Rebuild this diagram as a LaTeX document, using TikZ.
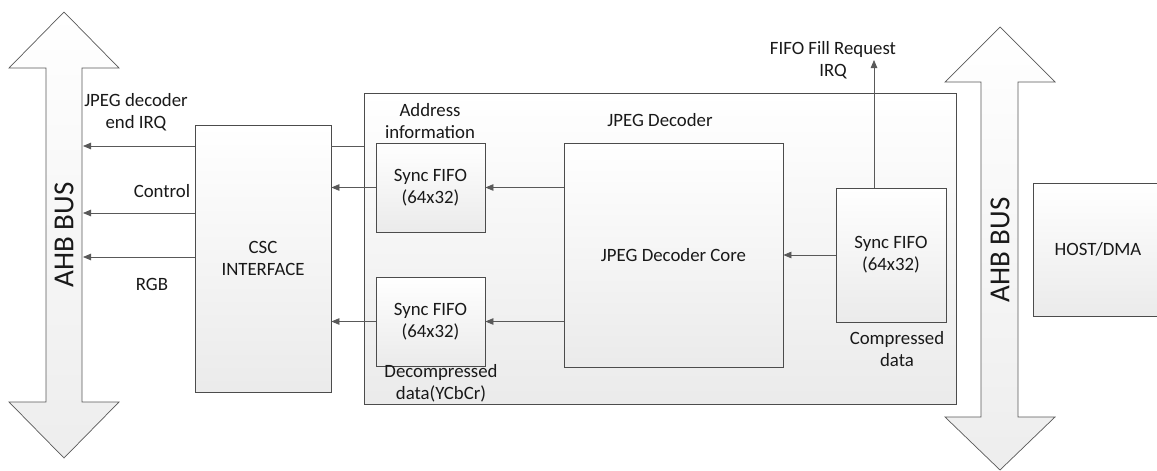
\documentclass[tikz,border=0pt]{standalone}
\usepackage{fontspec}
\setmainfont{Carlito}
\usetikzlibrary{arrows.meta,shadows}
\begin{document}
\begin{tikzpicture}[x=1pt,y=-1pt,
  every node/.style={font=\fontsize{18.8}{22}\selectfont, text=black!90, align=center},
  blk/.style={draw=black!70, line width=0.8pt, top color=white, bottom color=black!8,
    drop shadow={opacity=0.3, shadow xshift=1.3pt, shadow yshift=-1.3pt},
    inner sep=0pt, anchor=center},
  bus/.style={draw=black!65, line width=0.7pt, top color=white, bottom color=black!7},
  arr/.style={draw=black!65, line width=0.8pt, -{Triangle[length=8pt,width=6.5pt]}},
  ln/.style={draw=black!65, line width=0.8pt},
  buslbl/.style={font=\fontsize{29}{30}\selectfont, rotate=90}
]
\useasboundingbox (0,0) rectangle (1157,471);
\clip (0,0) rectangle (1157,471);
\fill[white] (0,0) rectangle (1157,471);

% buses
\path[bus] (64,12) -- (119,68) -- (82,68) -- (82,402) -- (119,402) -- (64,458)
  -- (9,402) -- (46,402) -- (46,68) -- (9,68) -- cycle;
\node[buslbl] (lbuslbl) at (64,235) {AHB BUS};
\path[bus] (1000,27) -- (1055,82) -- (1018,82) -- (1018,417) -- (1055,417) -- (1000,470)
  -- (945,417) -- (981,417) -- (981,82) -- (945,82) -- cycle;
\node[buslbl] (rbuslbl) at (1000,250) {AHB BUS};
\coordinate (lbus) at (83,0);

% boxes
\node[blk, minimum width=136pt, minimum height=267pt] (csc) at (263,258.5) {CSC\\INTERFACE};
\node[blk, minimum width=592pt, minimum height=311pt] (jpeg) at (660,248.5) {};
\node[blk, minimum width=109pt, minimum height=89pt] (fifo1) at (430.5,187.5) {Sync FIFO\\(64x32)};
\node[blk, minimum width=109pt, minimum height=89pt] (fifo2) at (430.5,321.5) {Sync FIFO\\(64x32)};
\node[blk, minimum width=219pt, minimum height=224pt] (core) at (673.5,255) {JPEG Decoder Core};
\node[blk, minimum width=110pt, minimum height=134pt] (fifo3) at (891,255) {Sync FIFO\\(64x32)};
\node[blk, minimum width=130pt, minimum height=133pt] (host) at (1098,249.5) {HOST/DMA};

% labels
\node (lblirq) at (136,112) {JPEG decoder\\end IRQ};
\node (lblctl) at (162,191) {Control};
\node (lblrgb) at (152,284) {RGB};
\node (lbladdr) at (430,121) {Address\\information};
\node (lbljpeg) at (660,120) {JPEG Decoder};
\node (lbldec) at (441,383) {Decompressed\\data(YCbCr)};
\node (lblfill) at (833,60) {FIFO Fill Request\\IRQ};
\node (lblcomp) at (897,349) {Compressed\\data};

% connectors
\draw[arr] (csc.west |- 0,146) -- (lbus |- 0,146);
\draw[arr] (csc.west |- 0,213) -- (lbus |- 0,213);
\draw[arr] (csc.west |- 0,257) -- (lbus |- 0,257);
\draw[ln] (csc.east |- 0,146) -- (jpeg.west |- 0,146);
\draw[arr] (fifo1.west) -- (csc.east |- fifo1.west);
\draw[arr] (fifo2.west) -- (csc.east |- fifo2.west);
\draw[arr] (core.west |- fifo1.east) -- (fifo1.east);
\draw[arr] (core.west |- fifo2.east) -- (fifo2.east);
\draw[arr] (fifo3.west) -- (core.east |- fifo3.west);
\coordinate (irqtip) at (874,60);
\draw[arr] (fifo3.north -| irqtip) -- (irqtip);
\end{tikzpicture}
\end{document}
